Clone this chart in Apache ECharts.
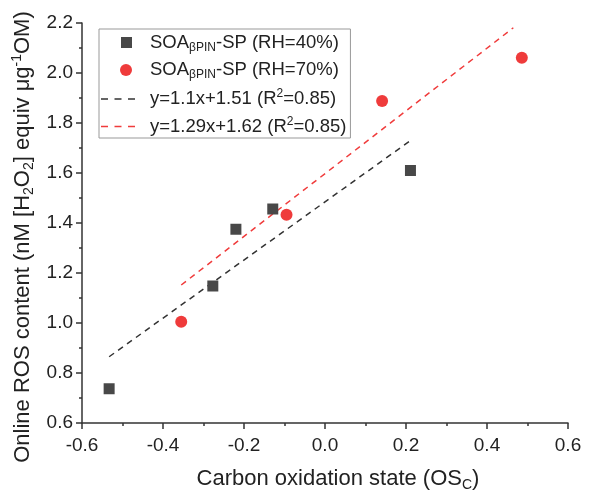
<!DOCTYPE html>
<html>
<head>
<meta charset="utf-8">
<script src="https://cdn.jsdelivr.net/npm/echarts@6/dist/echarts.min.js"></script>
<style>
html,body{margin:0;padding:0;background:#fff;}
#c{width:592px;height:490px;}
</style>
</head>
<body>
<div id="c"></div>
<script>
// ---- data ----
var rh40X = [-0.533, -0.277, -0.220, -0.129, 0.211];
var rh40Y = [0.737, 1.148, 1.375, 1.456, 1.610];
var rh70X = [-0.355, -0.095, 0.141, 0.486];
var rh70Y = [1.005, 1.433, 1.888, 2.061];
var fit40X = [-0.533, 0.212];
var fit40Y = [0.865, 1.731];
var fit70X = [-0.355, 0.465];
var fit70Y = [1.152, 2.181];
var seriesNames = ['RH40', 'RH70', 'FIT40', 'FIT70'];
var legendTexts = [
  '{t|SOA}{sub|βPIN}{t|-SP (RH=40%)}',
  '{t|SOA}{sub|βPIN}{t|-SP (RH=70%)}',
  '{t|y=1.1x+1.51 (R}{sup|2}{t|=0.85)}',
  '{t|y=1.29x+1.62 (R}{sup|2}{t|=0.85)}'
];

function pairs(xs, ys) { return xs.map(function (x, i) { return [x, ys[i]]; }); }

var FONT = '"Liberation Sans", Arial, sans-serif';
var TXT = '#222';
function richSet(size, subSize, lh, off) {
  return {
    t: {fontSize: size, fontFamily: FONT, color: TXT, lineHeight: lh},
    sub: {fontSize: subSize, fontFamily: FONT, color: TXT, verticalAlign: 'bottom', lineHeight: lh, padding: [off, 0, 0, 0]},
    sup: {fontSize: subSize, fontFamily: FONT, color: TXT, verticalAlign: 'top', lineHeight: lh, padding: [0, 0, off, 0]}
  };
}
var ICON_SQ = 'path://M0,0M44,12M20,0.5h11v11h-11z';
var ICON_CI = 'path://M0,0M44,12M19,6a6,6 0 1,0 12,0a6,6 0 1,0 -12,0z';
var ICON_DASH = 'path://M0,0M44,12M0,5.25h7v1.5h-7zM13.5,5.25h7v1.5h-7zM27,5.25h7v1.5h-7z';

var chart = echarts.init(document.getElementById('c'), null, {renderer: 'canvas'});
chart.setOption({
  animation: false,
  backgroundColor: '#fff',
  textStyle: {fontFamily: FONT},
  grid: {left: 82, right: 24, top: 23, bottom: 67, containLabel: false, outerBoundsMode: 'none'},
  xAxis: {
    type: 'value', min: -0.6, max: 0.6, interval: 0.2,
    name: '{t|Carbon oxidation state (OS}{sub|C}{t|)}',
    nameLocation: 'middle', nameGap: 43,
    nameTextStyle: {padding: [0, 0, 0, 26], rich: richSet(22, 14, 26, 10)},
    axisLine: {onZero: false, lineStyle: {color: '#333', width: 1.5}},
    axisTick: {inside: false, length: 6, lineStyle: {color: '#333', width: 1.5}},
    minorTick: {show: true, splitNumber: 2, length: 3, lineStyle: {color: '#333', width: 1.5}},
    splitLine: {show: false},
    axisLabel: {fontSize: 19, color: TXT, fontFamily: FONT, margin: 13,
      formatter: function (v) { return v.toFixed(1); }}
  },
  yAxis: {
    type: 'value', min: 0.6, max: 2.2, interval: 0.2,
    name: '{t|Online ROS content (nM [H}{sub|2}{t|O}{sub|2}{t|] equiv μg}{sup|-1}{t|OM)}',
    nameLocation: 'middle', nameGap: 46, nameRotate: 90,
    nameTextStyle: {padding: [0, 28, 0, 0], rich: richSet(22, 14, 26, 10)},
    axisLine: {show: true, onZero: false, lineStyle: {color: '#333', width: 1.5}},
    axisTick: {show: true, inside: false, length: 6, lineStyle: {color: '#333', width: 1.5}},
    minorTick: {show: true, splitNumber: 2, length: 3, lineStyle: {color: '#333', width: 1.5}},
    splitLine: {show: false},
    axisLabel: {fontSize: 19, color: TXT, fontFamily: FONT, margin: 9,
      formatter: function (v) { return v.toFixed(1); }}
  },
  legend: {
    orient: 'vertical', left: 99, top: 29,
    padding: [4, 4, 2, 2],
    itemGap: 7,
    itemWidth: 44, itemHeight: 12,
    symbolKeepAspect: true,
    borderColor: '#999', borderWidth: 1,
    data: [
      {name: seriesNames[0], icon: ICON_SQ},
      {name: seriesNames[1], icon: ICON_CI},
      {name: seriesNames[2], icon: ICON_DASH},
      {name: seriesNames[3], icon: ICON_DASH}
    ],
    formatter: function (n) { return legendTexts[seriesNames.indexOf(n)]; },
    textStyle: {rich: richSet(18.5, 12, 22, 8)}
  },
  series: [
    {name: seriesNames[0], type: 'scatter', symbol: 'rect', symbolSize: 11,
      itemStyle: {color: '#484848', opacity: 1}, data: pairs(rh40X, rh40Y), z: 5},
    {name: seriesNames[1], type: 'scatter', symbol: 'circle', symbolSize: 12,
      itemStyle: {color: '#ef3b3b', opacity: 1}, data: pairs(rh70X, rh70Y), z: 5},
    {name: seriesNames[2], type: 'line', symbol: 'none', showSymbol: false,
      lineStyle: {color: '#333', width: 1.5, type: [6, 5]}, itemStyle: {color: '#333'},
      data: pairs(fit40X, fit40Y), z: 3},
    {name: seriesNames[3], type: 'line', symbol: 'none', showSymbol: false,
      lineStyle: {color: '#f03c3c', width: 1.5, type: [6, 5]}, itemStyle: {color: '#f03c3c'},
      data: pairs(fit70X, fit70Y), z: 3}
  ]
});
</script>
</body>
</html>
